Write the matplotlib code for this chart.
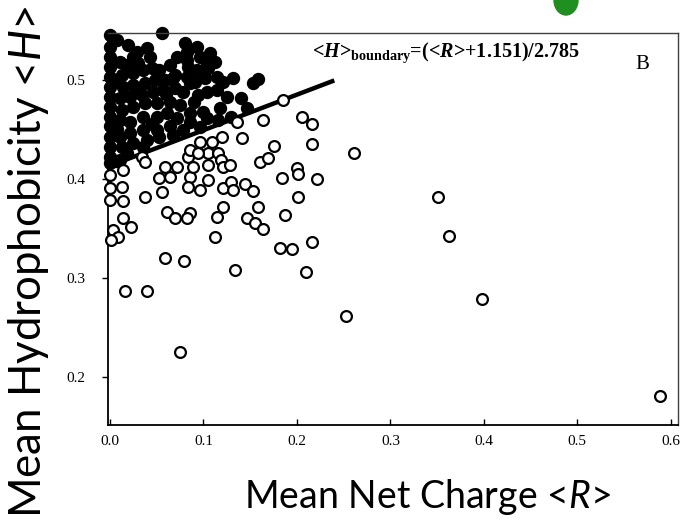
import matplotlib
matplotlib.use("Agg")
import matplotlib.pyplot as plt
from matplotlib.patches import Ellipse

# Mean net charge <R> and mean hydrophobicity <H>
# folded proteins (filled) and natively unfolded proteins (open)
folded_R = [0.0, 0.0, 0.0, 0.0, 0.0, 0.0, 0.0, 0.0, 0.0, 0.0, 0.0, 0.0, 0.0, 0.0,
            0.056, 0.019, 0.029, 0.040, 0.043, 0.030, 0.018, 0.011, 0.013, 0.025,
            0.035, 0.045, 0.053, 0.064, 0.080, 0.082, 0.093, 0.096, 0.082, 0.072,
            0.107, 0.104, 0.112, 0.093, 0.082, 0.067, 0.059, 0.048, 0.037, 0.025,
            0.014, 0.011, 0.021, 0.034, 0.046, 0.057, 0.070, 0.078, 0.091, 0.102,
            0.114, 0.121, 0.132, 0.153, 0.158, 0.104, 0.114, 0.125, 0.147, 0.130,
            0.116, 0.104, 0.086, 0.075, 0.064, 0.050, 0.037, 0.025, 0.013, 0.011,
            0.021, 0.035, 0.050, 0.061, 0.072, 0.086, 0.096, 0.078, 0.064, 0.050,
            0.035, 0.021, 0.011, 0.013, 0.025, 0.040, 0.053, 0.067, 0.035, 0.018,
            0.011, 0.007, 0.094, 0.086, 0.105, 0.083, 0.025, 0.008, 0.008, 0.008,
            0.118, 0.090, 0.060, 0.045, 0.028, 0.140, 0.100, 0.070]
folded_H = [0.545, 0.533, 0.523, 0.513, 0.503, 0.493, 0.483, 0.473, 0.463, 0.453,
            0.442, 0.432, 0.422, 0.416,
            0.547, 0.535, 0.528, 0.532, 0.523, 0.517, 0.515, 0.518, 0.505, 0.507,
            0.510, 0.512, 0.510, 0.515, 0.537, 0.528, 0.533, 0.523, 0.520, 0.523,
            0.527, 0.515, 0.518, 0.510, 0.503, 0.502, 0.500, 0.500, 0.497, 0.495,
            0.493, 0.482, 0.483, 0.485, 0.488, 0.490, 0.492, 0.488, 0.498, 0.502,
            0.503, 0.498, 0.502, 0.497, 0.501, 0.488, 0.490, 0.483, 0.472, 0.463,
            0.460, 0.462, 0.467, 0.475, 0.478, 0.477, 0.477, 0.473, 0.470, 0.460,
            0.458, 0.463, 0.463, 0.467, 0.462, 0.457, 0.452, 0.449, 0.453, 0.449,
            0.449, 0.446, 0.442, 0.432, 0.436, 0.439, 0.442, 0.444, 0.432, 0.426,
            0.419, 0.418, 0.485, 0.497, 0.512, 0.513, 0.523, 0.540, 0.500, 0.450,
            0.472, 0.478, 0.486, 0.455, 0.488, 0.482, 0.468, 0.505]

unfolded_R = [0.0, 0.0, 0.0, 0.014, 0.013, 0.014, 0.014, 0.003, 0.009, 0.001,
              0.022, 0.037, 0.034, 0.037, 0.016, 0.040, 0.059, 0.079, 0.075, 0.134,
              0.210, 0.253, 0.588, 0.398, 0.363, 0.351, 0.261, 0.053, 0.059, 0.064,
              0.056, 0.072, 0.061, 0.070, 0.086, 0.082, 0.083, 0.086, 0.086, 0.089,
              0.083, 0.096, 0.096, 0.109, 0.105, 0.105, 0.105, 0.116, 0.120, 0.119,
              0.121, 0.121, 0.130, 0.132, 0.128, 0.121, 0.114, 0.112, 0.136, 0.141,
              0.144, 0.153, 0.158, 0.147, 0.155, 0.164, 0.160, 0.169, 0.164, 0.176,
              0.185, 0.205, 0.216, 0.216, 0.200, 0.201, 0.184, 0.221, 0.201, 0.187,
              0.182, 0.195, 0.216, 0.094]
unfolded_H = [0.404, 0.391, 0.379, 0.409, 0.392, 0.378, 0.361, 0.348, 0.341, 0.338,
              0.351, 0.382, 0.422, 0.417, 0.287, 0.287, 0.320, 0.317, 0.225, 0.308,
              0.306, 0.262, 0.181, 0.279, 0.342, 0.382, 0.426, 0.401, 0.412, 0.402,
              0.387, 0.412, 0.367, 0.361, 0.366, 0.361, 0.422, 0.429, 0.402, 0.412,
              0.392, 0.389, 0.437, 0.437, 0.426, 0.414, 0.399, 0.426, 0.442, 0.419,
              0.412, 0.391, 0.397, 0.389, 0.414, 0.372, 0.362, 0.341, 0.457, 0.441,
              0.395, 0.388, 0.372, 0.361, 0.356, 0.349, 0.417, 0.421, 0.460, 0.433,
              0.480, 0.463, 0.455, 0.435, 0.411, 0.405, 0.401, 0.400, 0.382, 0.364,
              0.330, 0.329, 0.336, 0.426]

# boundary <H> = (<R> + 1.151) / 2.785
boundary_R = [0.0, 0.24]
boundary_H = [(r + 1.151) / 2.785 for r in boundary_R]

x_ticks = [0.0, 0.1, 0.2, 0.3, 0.4, 0.5, 0.6]
y_ticks = [0.2, 0.3, 0.4, 0.5]

plt.rcParams['mathtext.fontset'] = 'custom'
plt.rcParams['mathtext.rm'] = 'Liberation Serif:bold'
plt.rcParams['mathtext.it'] = 'Liberation Serif:italic:bold'
plt.rcParams['mathtext.bf'] = 'Liberation Serif:bold'
plt.rcParams['mathtext.sf'] = 'Lato:italic'

fig = plt.figure(figsize=(6.84, 5.30), dpi=100)
ax = fig.add_axes([0.158, 0.198, 0.833, 0.740])

ax.plot(boundary_R, boundary_H, color='black', lw=3.2, solid_capstyle='butt', zorder=3)
ax.plot(folded_R, folded_H, 'o', ms=8.4, mfc='black', mec='black', mew=1.2,
        clip_on=False, zorder=2)
ax.plot(unfolded_R, unfolded_H, 'o', ms=7.8, mfc='white', mec='black', mew=1.6,
        clip_on=False, zorder=4)

ax.set_xlim(-0.002, 0.6075)
ax.set_ylim(0.1515, 0.5475)
ax.set_xticks(x_ticks)
ax.set_yticks(y_ticks)
ax.set_xticklabels([f'{v:.1f}' for v in x_ticks], family='Liberation Serif', fontsize=11)
ax.set_yticklabels([f'{v:.1f}' for v in y_ticks], family='Liberation Serif', fontsize=11)
ax.tick_params(axis='x', direction='in', length=4, width=1, pad=7)
ax.tick_params(axis='y', direction='out', length=4, width=1, pad=12)

for side in ['left', 'bottom']:
    ax.spines[side].set_linewidth(1.3)
for side in ['top', 'right']:
    ax.spines[side].set_linewidth(1.0)
    ax.spines[side].set_color('0.25')

ax.text(0.216, 0.523, r'<$\mathit{H}$>$_{\mathrm{boundary}}$=(<$\mathit{R}$>+1.151)/2.785',
        family='Liberation Serif', fontweight='bold', fontsize=14.5, va='baseline')
ax.text(0.569, 0.516, 'B', family='Liberation Serif', fontsize=15, ha='center', va='center')

fig.text(0.041, 0.505, r'Mean Hydrophobicity <$\mathsf{H}$>', family='Lato', fontsize=31.5,
         rotation=90, ha='center', va='center')
fig.text(0.625, 0.062, r'Mean Net Charge <$\mathsf{R}$>', family='Lato', fontsize=27,
         ha='center', va='center')

# small green shape cut off at the top edge
fig.patches.append(Ellipse((566 / 684, 1.0), 24 / 684, 30 / 530, color='#1f8f1f',
                           transform=fig.transFigure, figure=fig))

fig.savefig('out.png', dpi=100)
